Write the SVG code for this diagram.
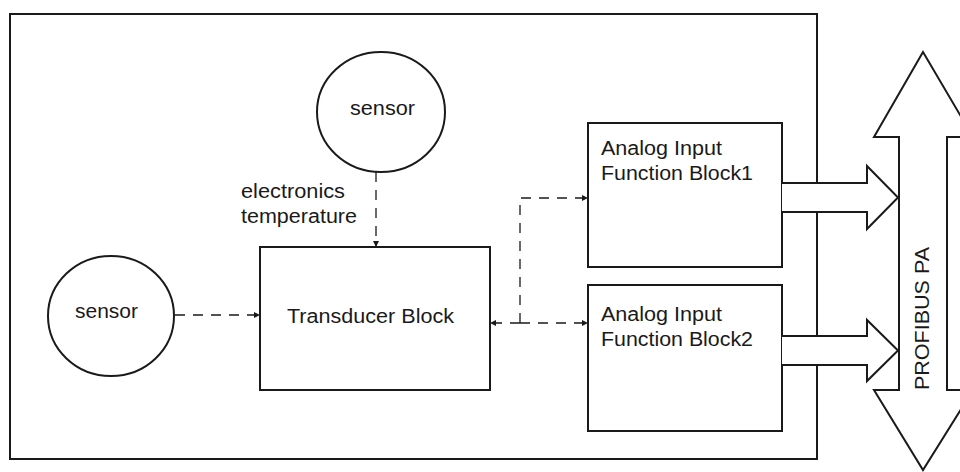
<svg xmlns="http://www.w3.org/2000/svg" width="960" height="472" viewBox="0 0 960 472">
<style>
.box{fill:#fff;stroke:#1a1a1a;stroke-width:2}
.frame{fill:#fff;stroke:#1a1a1a;stroke-width:2}
.dash{fill:none;stroke:#1a1a1a;stroke-width:1.3;stroke-dasharray:10 8}
.t{font-family:"Liberation Sans",Arial,sans-serif;font-size:20px;fill:#1a1a1a}
</style>
<defs>
<marker id="ah" viewBox="0 0 10 10" refX="10" refY="5" markerWidth="7" markerHeight="6" markerUnits="userSpaceOnUse" orient="auto">
<path d="M0,0 L10,5 L0,10 z" fill="#1a1a1a"/>
</marker>
</defs>
<rect width="960" height="472" fill="#fff"/>
<g id="frame"><rect class="frame" x="10" y="14" width="807" height="445"/></g>

<g id="sensor-top">
<ellipse class="box" cx="381" cy="112" rx="64" ry="60"/>
<text class="t" x="350" y="115" textLength="65" lengthAdjust="spacingAndGlyphs">sensor</text>
</g>
<g id="sensor-left">
<ellipse class="box" cx="111" cy="316" rx="63" ry="60"/>
<text class="t" x="75" y="318" textLength="63" lengthAdjust="spacingAndGlyphs">sensor</text>
</g>
<g id="label-temp">
<text class="t" x="241" y="198" textLength="104" lengthAdjust="spacingAndGlyphs">electronics</text>
<text class="t" x="241" y="223" textLength="116" lengthAdjust="spacingAndGlyphs">temperature</text>
</g>
<g id="transducer">
<rect class="box" x="260" y="247" width="230" height="143"/>
<text class="t" x="287" y="323" textLength="167" lengthAdjust="spacingAndGlyphs">Transducer Block</text>
</g>
<g id="ai1">
<rect class="box" x="588" y="123" width="194" height="144"/>
<text class="t" x="601" y="155" textLength="121" lengthAdjust="spacingAndGlyphs">Analog Input</text>
<text class="t" x="601" y="180" textLength="152" lengthAdjust="spacingAndGlyphs">Function Block1</text>
</g>
<g id="ai2">
<rect class="box" x="588" y="285" width="194" height="146"/>
<text class="t" x="601" y="321" textLength="121" lengthAdjust="spacingAndGlyphs">Analog Input</text>
<text class="t" x="601" y="346" textLength="152" lengthAdjust="spacingAndGlyphs">Function Block2</text>
</g>

<g id="connectors">
<path class="dash" d="M376,172 V247" marker-end="url(#ah)"/>
<path class="dash" d="M175,315 H260" marker-end="url(#ah)"/>
<path class="dash" d="M520,323 H490" marker-end="url(#ah)"/>
<path class="dash" d="M520,323 V198 H588" marker-end="url(#ah)"/>
<path class="dash" d="M520,323 H588" marker-end="url(#ah)"/>
<path class="box" d="M782,183 H867 V166 L898,197.5 L867,229 V212 H782"/>
<path class="box" d="M782,336 H867 V320 L898,350.5 L867,381 V365 H782"/>
</g>

<g id="profibus">
<path class="box" d="M923,52 L973,137 H947 V390 H973 L923,470 L874,390 H899 V137 H874 Z"/>
<text class="t" transform="translate(929,318.5) rotate(-90)" text-anchor="middle" textLength="143" lengthAdjust="spacingAndGlyphs">PROFIBUS PA</text>
</g>
</svg>
